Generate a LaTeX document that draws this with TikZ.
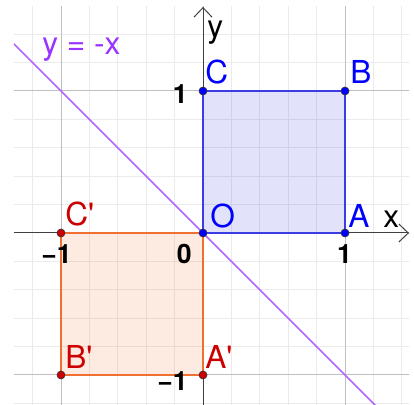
\documentclass[tikz,border=0pt]{standalone}
\usepackage{fontspec}
\setmainfont{TeX Gyre Heros}
\usepackage{tikz}
\usetikzlibrary{arrows.meta}
\definecolor{ptblue}{RGB}{0,0,255}
\definecolor{sqblue}{RGB}{60,60,230}
\definecolor{ptred}{RGB}{204,0,0}
\definecolor{sqorange}{RGB}{240,112,50}
\definecolor{linepurple}{RGB}{178,102,255}
\definecolor{txtpurple}{RGB}{153,51,255}
\newcommand{\prm}{\textquotesingle}

\begin{document}
\begin{tikzpicture}[x=3cm, y=3cm, font=\fontsize{19}{22}\selectfont,
  >={Straight Barb[length=2mm, width=3.8mm]},
  minorgrid/.style={draw=black!8, line width=0.6pt},
  majorgrid/.style={draw=black!25, line width=0.6pt},
  axis/.style={draw=black!75, line width=0.6pt},
  dotb/.style={circle, fill=ptblue, draw=black!80, line width=0.4pt,
               inner sep=0pt, minimum size=4.8pt},
  dotr/.style={dotb, fill=ptred},
  lbl/.style={inner sep=0pt, anchor=base west},
  num/.style={inner sep=0pt, font=\fontsize{16}{19}\selectfont\bfseries}]
  \useasboundingbox (-1.4296,-1.2113) rectangle (1.4859,1.6408);
  % points
  \coordinate (O) at (0,0);
  \coordinate (A) at (1,0);
  \coordinate (B) at (1,1);
  \coordinate (C) at (0,1);
  \coordinate (A') at (0,-1);
  \coordinate (B') at (-1,-1);
  \coordinate (C') at (-1,0);
  \coordinate (xl) at (-1.331,0);
  \coordinate (xr) at (1.451,0);
  \coordinate (yb) at (0,-1.2113);
  \coordinate (yt) at (0,1.592);
  \coordinate (ll) at (-1.5,1.5);
  \coordinate (lr) at (1.5,-1.5);
  % grid and line y = -x
  \begin{scope}
    \clip (-1.331,-1.2113) rectangle (1.451,1.592);
    \draw[minorgrid, step=0.2] (-1.6,-1.4) grid (1.6,1.8);
    \draw[majorgrid, step=1] (-1.6,-1.4) grid (1.6,1.8);
    \fill[sqblue, fill opacity=0.15] (O) rectangle (B);
    \fill[sqorange, fill opacity=0.15] (B') rectangle (O);
    \draw[axis, ->] (xl) -- (xr);
    \draw[axis, ->] (yb) -- (yt);
    \draw[linepurple, line width=0.9pt] (ll) -- (lr);
  \end{scope}
  % squares
  \draw[sqblue, line width=1.2pt] (O) -- (A) -- (B) -- (C) -- cycle;
  \draw[sqorange, line width=1.2pt] (O) -- (A') -- (B') -- (C') -- cycle;
  \foreach \p in {A',B',C'}
    \node[dotr] (d\p) at (\p) {};
  \foreach \p in {O,A,B,C}
    \node[dotb] (d\p) at (\p) {};
  % labels
  \node[lbl, text=ptblue] (lC) at (0.014,1.056) {C};
  \node[lbl, text=ptblue] (lB) at (1.035,1.056) {B};
  \node[lbl, text=ptblue] (lO) at (0.049,0.042) {O};
  \node[lbl, text=ptblue] (lA) at (1.021,0.042) {A};
  \node[lbl, text=ptred] (lA') at (0.014,-0.951) {A\prm};
  \node[lbl, text=ptred] (lB') at (-0.972,-0.951) {B\prm};
  \node[lbl, text=ptred] (lC') at (-0.972,0.056) {C\prm};
  \node[lbl, text=txtpurple] (eq) at (-1.134,1.254) {y = -x};
  \node[lbl] (lx) at (1.268,0.042) {x};
  \node[lbl] (ly) at (0.028,1.38) {y};
  % axis numbers
  \node[num, anchor=base east] (nxm) at (-0.923,-0.218) {−1};
  \node[num, anchor=base east] (n0) at (-0.077,-0.218) {0};
  \node[num, anchor=base] (nx1) at (0.996,-0.218) {1};
  \node[num, anchor=base east] (ny1) at (-0.106,0.915) {1};
  \node[num, anchor=base east] (nym) at (-0.106,-1.106) {−1};
\end{tikzpicture}
\end{document}
